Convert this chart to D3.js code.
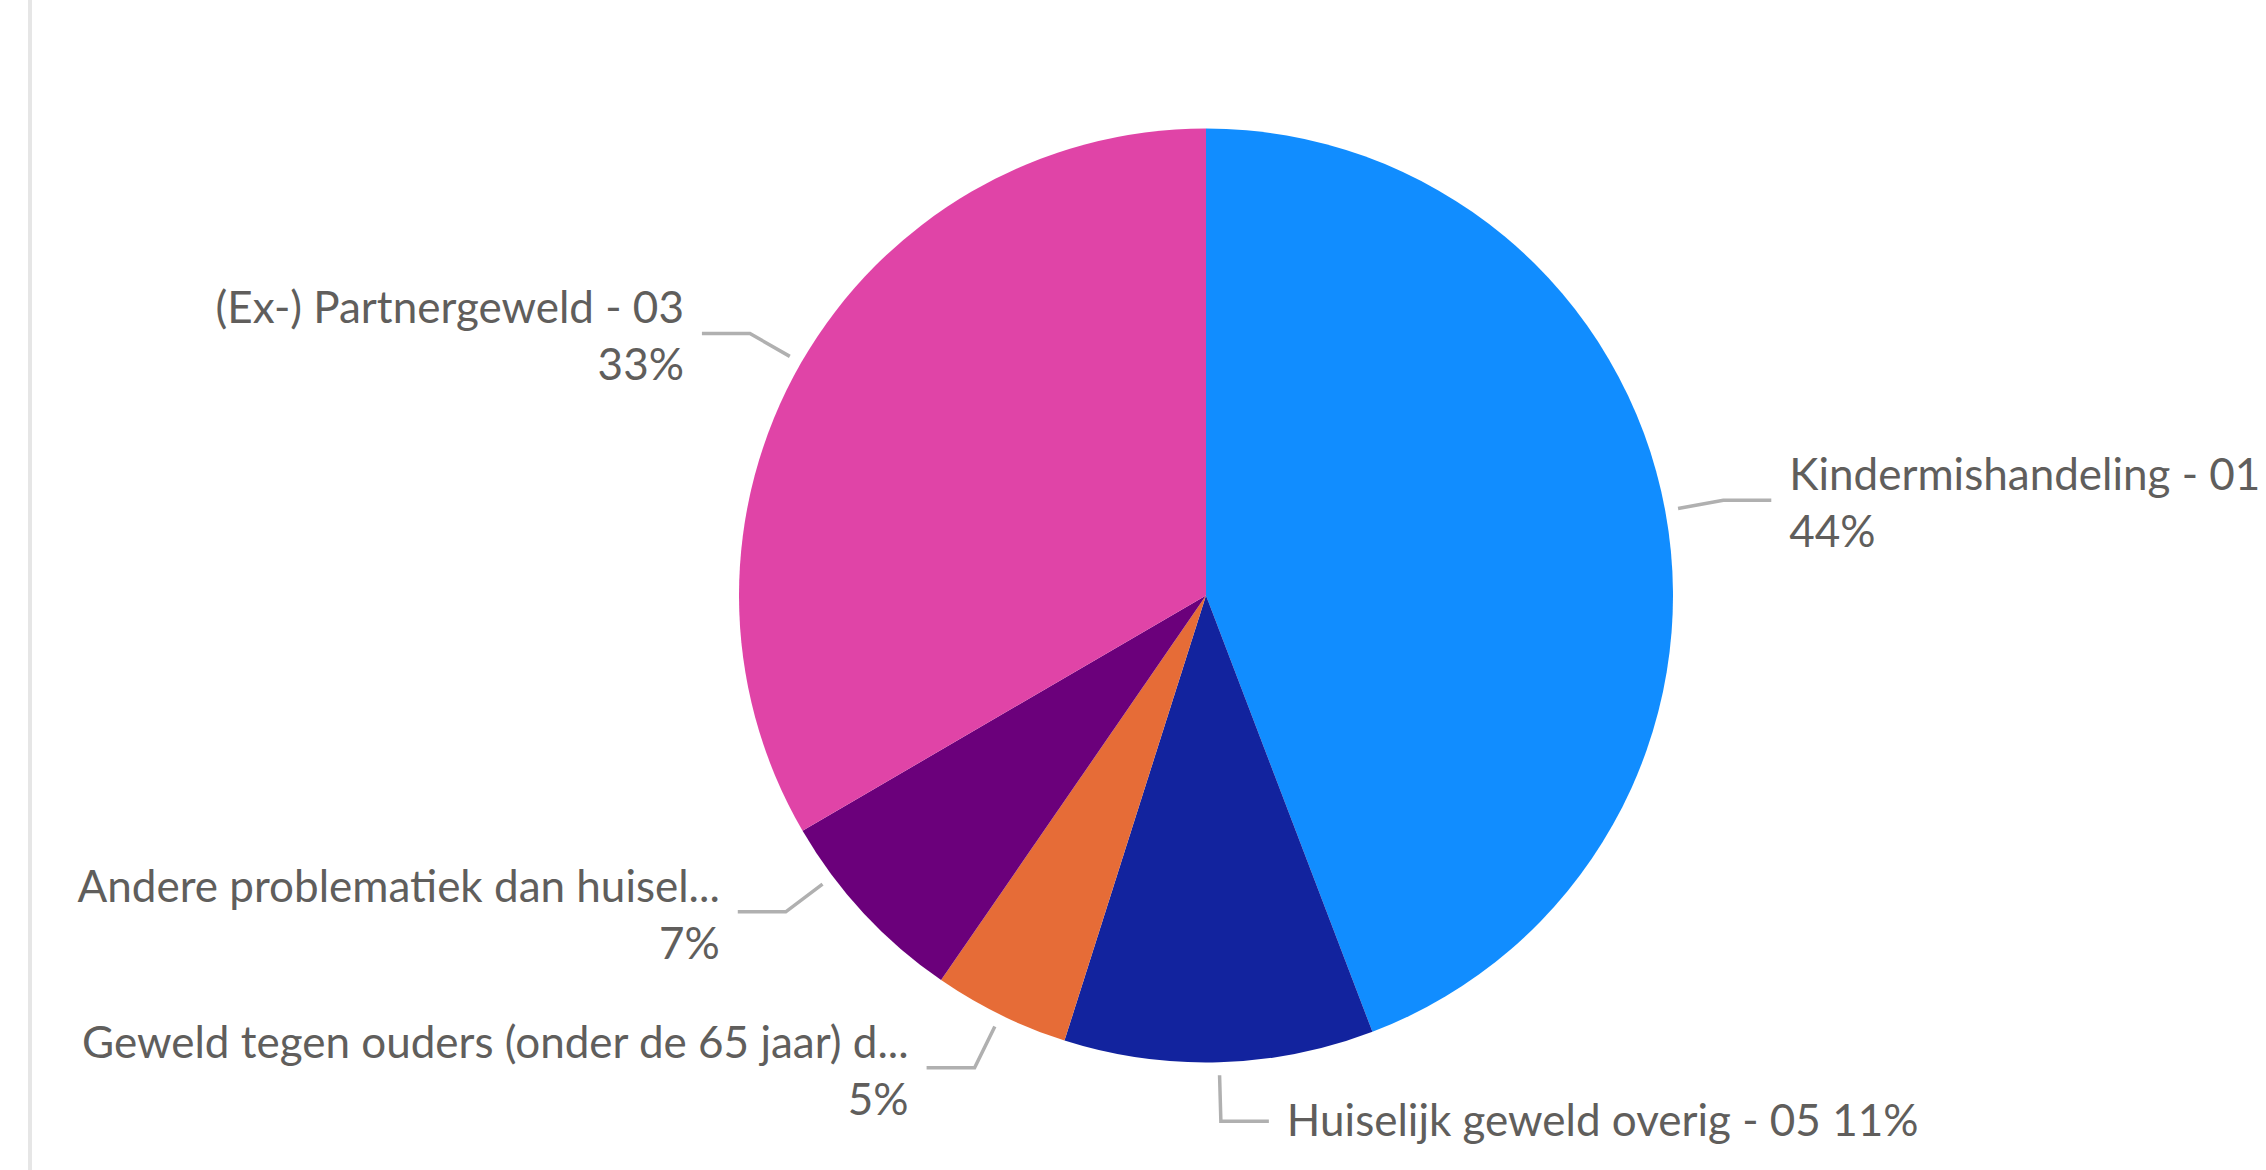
<!DOCTYPE html>
<html>
<head>
<meta charset="utf-8">
<script src="https://cdn.jsdelivr.net/npm/d3@7"></script>
<style>
  html, body { margin: 0; padding: 0; background: #ffffff; }
  svg { display: block; }
</style>
</head>
<body>
<script>
// ---- data ----
const categories = [
  "Kindermishandeling - 01",
  "Huiselijk geweld overig - 05",
  "Geweld tegen ouders (onder de 65 jaar) d...",
  "Andere problematiek dan huisel...",
  "(Ex-) Partnergeweld - 03"
];
const values = [44.2, 10.7, 4.7, 7.0, 33.4];
const colors = ["#118DFF", "#12239E", "#E66C37", "#6B007B", "#E044A7"];

// ---- layout ----
const W = 2266, H = 1170;
const cx = 1206, cy = 595.5, R = 467;
const r1 = R + 13, r2 = R + 59;
const hLen = 48, gap = 18;
const minGap = 156;
const fontFamily = "Lato, 'Liberation Sans', sans-serif";
const fontSize = 44;
const textColor = "#605E5C";
const leaderColor = "#B0B0B0";

const svg = d3.select("body").append("svg")
  .attr("width", W).attr("height", H);

svg.append("rect").attr("x", 0).attr("y", 0).attr("width", W).attr("height", H).attr("fill", "#fff");
svg.append("rect").attr("x", 28).attr("y", 0).attr("width", 4).attr("height", H).attr("fill", "#E6E6E6");

const data = categories.map((c, i) => ({ name: c, value: values[i], color: colors[i] }));
const total = d3.sum(values);

const pie = d3.pie().sort(null).value(d => d.value).startAngle(0).endAngle(2 * Math.PI);
const arcs = pie(data);
const arcGen = d3.arc().innerRadius(0).outerRadius(R);

const g = svg.append("g").attr("transform", `translate(${cx},${cy})`);
g.selectAll("path.slice").data(arcs).enter().append("path")
  .attr("class", "slice")
  .attr("d", arcGen)
  .attr("fill", d => d.data.color);

// label placement
const labels = arcs.map(a => {
  const mid = (a.startAngle + a.endAngle) / 2;
  return {
    arc: a,
    angle: mid,
    side: Math.sin(mid) >= 0 ? "right" : "left",
    single: Math.abs(mid - Math.PI) < 0.2,
    y: -r2 * Math.cos(mid)
  };
});

// collision avoidance on left side (push upward from the bottom)
const left = labels.filter(l => l.side === "left").sort((a, b) => b.y - a.y);
for (let i = 1; i < left.length; i++) {
  if (left[i - 1].y - left[i].y < minGap) {
    left[i].y = left[i - 1].y - minGap;
    const c = -left[i].y / r2;
    left[i].angle = 2 * Math.PI - Math.acos(Math.max(-1, Math.min(1, c)));
  }
}
const right = labels.filter(l => l.side === "right").sort((a, b) => a.y - b.y);
for (let i = 1; i < right.length; i++) {
  if (right[i].y - right[i - 1].y < minGap) {
    right[i].y = right[i - 1].y + minGap;
    const c = -right[i].y / r2;
    right[i].angle = Math.acos(Math.max(-1, Math.min(1, c)));
  }
}

labels.forEach(l => {
  const a = l.angle;
  const p1 = [r1 * Math.sin(a), -r1 * Math.cos(a)];
  const p2 = [r2 * Math.sin(a), -r2 * Math.cos(a)];
  const dir = l.side === "right" ? 1 : -1;
  const p3 = [p2[0] + dir * hLen, p2[1]];
  g.append("polyline")
    .attr("points", [p1, p2, p3].map(p => p.join(",")).join(" "))
    .attr("fill", "none")
    .attr("stroke", leaderColor)
    .attr("stroke-width", 3.5);

  const tx = p3[0] + dir * gap;
  const pct = Math.round(l.arc.data.value / total * 100) + "%";
  const anchor = l.side === "right" ? "start" : "end";
  if (l.single) {
    g.append("text")
      .attr("x", tx).attr("y", p2[1] + 15)
      .attr("text-anchor", anchor)
      .attr("font-family", fontFamily).attr("font-size", fontSize)
      .attr("fill", textColor)
      .text(l.arc.data.name + " " + pct);
  } else {
    g.append("text")
      .attr("x", tx).attr("y", p2[1] - 10)
      .attr("text-anchor", anchor)
      .attr("font-family", fontFamily).attr("font-size", fontSize)
      .attr("fill", textColor)
      .text(l.arc.data.name);
    g.append("text")
      .attr("x", tx).attr("y", p2[1] + 47)
      .attr("text-anchor", anchor)
      .attr("font-family", fontFamily).attr("font-size", fontSize)
      .attr("fill", textColor)
      .text(pct);
  }
});
</script>
</body>
</html>
